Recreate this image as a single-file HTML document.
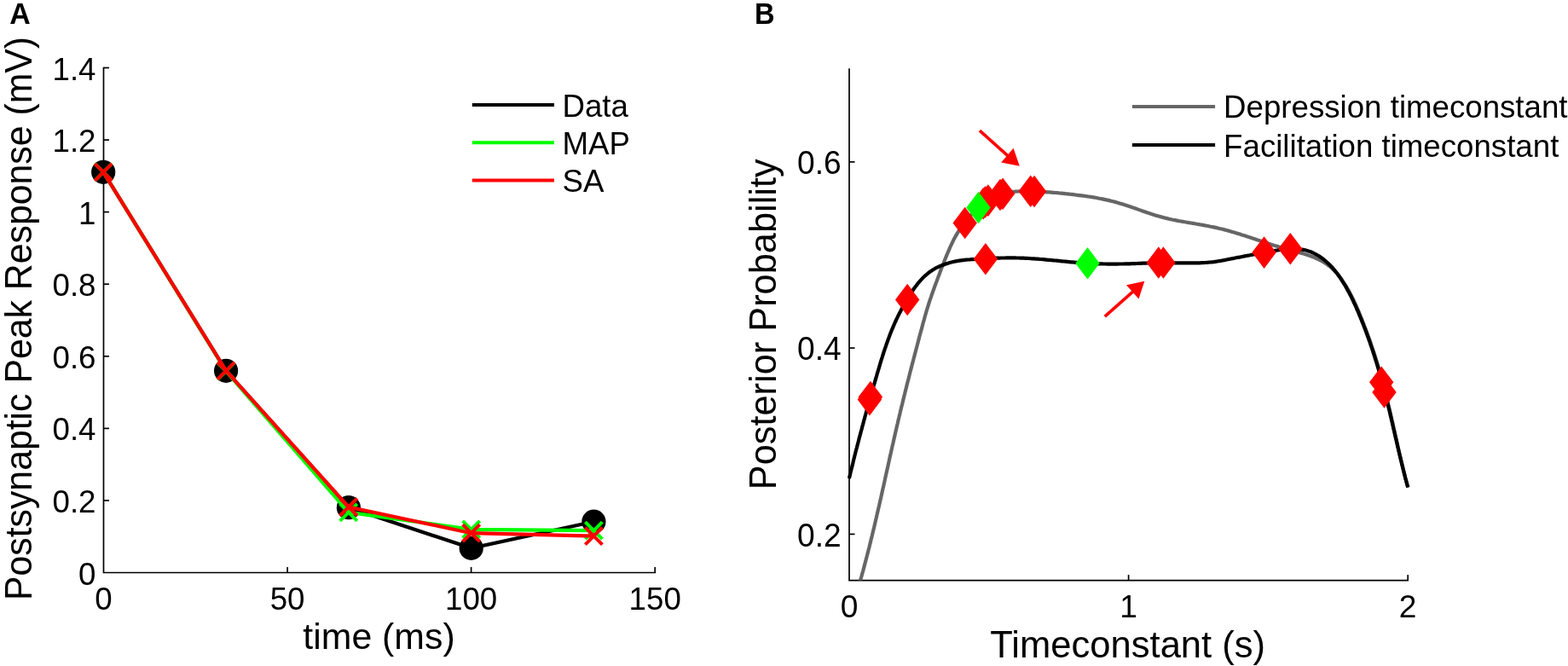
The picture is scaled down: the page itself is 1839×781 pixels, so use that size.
<!DOCTYPE html>
<html lang="en"><head><meta charset="utf-8"><title>Figure</title>
<style>
html,body{margin:0;padding:0;background:#fff;}
body{width:1839px;height:781px;overflow:hidden;}
svg{display:block;}
text{font-family:"Liberation Sans", sans-serif;}
</style></head><body>
<svg width="1839" height="781" viewBox="0 0 1839 781">
<rect width="1839" height="781" fill="#fff"/>
<g font-family='"Liberation Sans", sans-serif' fill="#000">
<text transform="translate(11.20,28.30) scale(1.02,1.035)" font-size="33.3" font-weight="bold">A</text>
<text transform="translate(885.10,28.30) scale(0.98,1.035)" font-size="33.3" font-weight="bold">B</text>
<path d="M121.5,78.7L121.5,671.5L769.1,671.5" fill="none" stroke="#000" stroke-width="1.7" stroke-linejoin="miter" stroke-linecap="butt"/>
<text transform="translate(121.50,714.50)" font-size="36.67" text-anchor="middle">0</text>
<line x1="337.1" y1="671.5" x2="337.1" y2="665.0" stroke="#000" stroke-width="1.7"/>
<text transform="translate(337.07,714.50)" font-size="36.67" text-anchor="middle">50</text>
<line x1="552.6" y1="671.5" x2="552.6" y2="665.0" stroke="#000" stroke-width="1.7"/>
<text transform="translate(552.63,714.50)" font-size="36.67" text-anchor="middle">100</text>
<line x1="768.2" y1="671.5" x2="768.2" y2="665.0" stroke="#000" stroke-width="1.7"/>
<text transform="translate(768.20,714.50)" font-size="36.67" text-anchor="middle">150</text>
<text transform="translate(112.50,685.50)" font-size="36.67" text-anchor="end">0</text>
<line x1="121.5" y1="586.9" x2="128.0" y2="586.9" stroke="#000" stroke-width="1.7"/>
<text transform="translate(112.50,600.93)" font-size="36.67" text-anchor="end">0.2</text>
<line x1="121.5" y1="502.4" x2="128.0" y2="502.4" stroke="#000" stroke-width="1.7"/>
<text transform="translate(112.50,516.36)" font-size="36.67" text-anchor="end">0.4</text>
<line x1="121.5" y1="417.8" x2="128.0" y2="417.8" stroke="#000" stroke-width="1.7"/>
<text transform="translate(112.50,431.79)" font-size="36.67" text-anchor="end">0.6</text>
<line x1="121.5" y1="333.2" x2="128.0" y2="333.2" stroke="#000" stroke-width="1.7"/>
<text transform="translate(112.50,347.21)" font-size="36.67" text-anchor="end">0.8</text>
<line x1="121.5" y1="248.6" x2="128.0" y2="248.6" stroke="#000" stroke-width="1.7"/>
<text transform="translate(112.50,262.64)" font-size="36.67" text-anchor="end">1</text>
<line x1="121.5" y1="164.1" x2="128.0" y2="164.1" stroke="#000" stroke-width="1.7"/>
<text transform="translate(112.50,178.07)" font-size="36.67" text-anchor="end">1.2</text>
<line x1="121.5" y1="79.5" x2="128.0" y2="79.5" stroke="#000" stroke-width="1.7"/>
<text transform="translate(112.50,93.50)" font-size="36.67" text-anchor="end">1.4</text>
<text transform="translate(444.50,760.90)" font-size="42.8" text-anchor="middle">time (ms)</text>
<text transform="translate(36.60,373.50) rotate(-90) scale(1.0,1.03)" font-size="42.8" text-anchor="middle">Postsynaptic Peak Response (mV)</text>
<polyline points="121.2,201.8 265.1,434.8 408.9,595.2 552.7,642.8 696.4,611.7" fill="none" stroke="#000" stroke-width="4.2" stroke-linejoin="miter" />
<circle cx="121.2" cy="201.8" r="14.1" fill="#000"/>
<circle cx="265.1" cy="434.8" r="14.1" fill="#000"/>
<circle cx="408.9" cy="595.2" r="14.1" fill="#000"/>
<circle cx="552.7" cy="642.8" r="14.1" fill="#000"/>
<circle cx="696.4" cy="611.7" r="14.1" fill="#000"/>
<polyline points="121.2,201.8 265.1,435.2 408.8,600.8 552.7,620.8 696.4,622.1" fill="none" stroke="#0f0" stroke-width="4.2" stroke-linejoin="miter" />
<path d="M111.2,191.8L131.2,211.8M111.2,211.8L131.2,191.8" stroke="#0f0" stroke-width="4.0" fill="none"/>
<path d="M255.1,425.2L275.1,445.2M255.1,445.2L275.1,425.2" stroke="#0f0" stroke-width="4.0" fill="none"/>
<path d="M398.8,590.8L418.8,610.8M398.8,610.8L418.8,590.8" stroke="#0f0" stroke-width="4.0" fill="none"/>
<path d="M542.7,610.8L562.7,630.8M542.7,630.8L562.7,610.8" stroke="#0f0" stroke-width="4.0" fill="none"/>
<path d="M686.4,612.1L706.4,632.1M686.4,632.1L706.4,612.1" stroke="#0f0" stroke-width="4.0" fill="none"/>
<polyline points="121.2,201.8 265.1,434.8 408.8,594.5 552.7,625.2 696.4,628.7" fill="none" stroke="#f00" stroke-width="4.2" stroke-linejoin="miter" />
<path d="M111.2,191.8L131.2,211.8M111.2,211.8L131.2,191.8" stroke="#f00" stroke-width="4.0" fill="none"/>
<path d="M255.1,424.8L275.1,444.8M255.1,444.8L275.1,424.8" stroke="#f00" stroke-width="4.0" fill="none"/>
<path d="M398.8,584.5L418.8,604.5M398.8,604.5L418.8,584.5" stroke="#f00" stroke-width="4.0" fill="none"/>
<path d="M542.7,615.2L562.7,635.2M542.7,635.2L562.7,615.2" stroke="#f00" stroke-width="4.0" fill="none"/>
<path d="M686.4,618.7L706.4,638.7M686.4,638.7L706.4,618.7" stroke="#f00" stroke-width="4.0" fill="none"/>
<line x1="553.8" y1="123.0" x2="650" y2="123.0" stroke="#000" stroke-width="4.0"/>
<text transform="translate(659.50,136.60)" font-size="36.67">Data</text>
<line x1="553.8" y1="167.2" x2="650" y2="167.2" stroke="#0f0" stroke-width="4.0"/>
<text transform="translate(659.50,180.80)" font-size="36.67">MAP</text>
<line x1="553.8" y1="211.4" x2="650" y2="211.4" stroke="#f00" stroke-width="4.0"/>
<text transform="translate(659.50,225.00)" font-size="36.67">SA</text>
<path d="M996.0,80.3L996.0,680.6L1652.0,680.6" fill="none" stroke="#000" stroke-width="1.7" stroke-linejoin="miter" stroke-linecap="butt"/>
<text transform="translate(996.00,723.60)" font-size="37.14671" text-anchor="middle">0</text>
<line x1="1323.6" y1="680.6" x2="1323.6" y2="674.1" stroke="#000" stroke-width="1.7"/>
<text transform="translate(1323.60,723.60)" font-size="37.14671" text-anchor="middle">1</text>
<line x1="1651.2" y1="680.6" x2="1651.2" y2="674.1" stroke="#000" stroke-width="1.7"/>
<text transform="translate(1651.20,723.60)" font-size="37.14671" text-anchor="middle">2</text>
<line x1="996.0" y1="626.4" x2="1002.5" y2="626.4" stroke="#000" stroke-width="1.7"/>
<text transform="translate(986.60,640.65) scale(1.0,1.04)" font-size="37.14671" text-anchor="end">0.2</text>
<line x1="996.0" y1="408.1" x2="1002.5" y2="408.1" stroke="#000" stroke-width="1.7"/>
<text transform="translate(986.60,422.40) scale(1.0,1.04)" font-size="37.14671" text-anchor="end">0.4</text>
<line x1="996.0" y1="189.9" x2="1002.5" y2="189.9" stroke="#000" stroke-width="1.7"/>
<text transform="translate(986.60,204.15) scale(1.0,1.04)" font-size="37.14671" text-anchor="end">0.6</text>
<text transform="translate(1322.70,770.90)" font-size="43.5704" text-anchor="middle">Timeconstant (s)</text>
<text transform="translate(910.30,380.30) rotate(-90) scale(1.0,1.005)" font-size="43.356399999999994" text-anchor="middle">Posterior Probability</text>
<clipPath id="cr"><rect x="991.0" y="80.5" width="665.2" height="600.1"/></clipPath>
<g clip-path="url(#cr)">
<polyline points="1006.4,690.0 1007.0,687.7 1007.7,685.4 1008.3,683.1 1009.0,680.9 1009.6,678.6 1010.3,676.3 1010.9,674.0 1011.5,671.8 1012.2,669.5 1012.8,667.2 1013.4,664.9 1014.0,662.6 1014.6,660.3 1015.2,658.0 1015.8,655.8 1016.4,653.5 1017.0,651.2 1017.6,648.9 1018.2,646.6 1018.8,644.3 1019.4,642.0 1019.9,639.7 1020.5,637.4 1021.1,635.1 1021.6,632.8 1022.2,630.5 1022.8,628.2 1023.3,625.9 1023.9,623.6 1024.4,621.3 1025.0,619.0 1025.5,616.7 1026.1,614.4 1026.6,612.1 1027.1,609.8 1027.7,607.5 1028.2,605.2 1028.7,602.9 1029.3,600.6 1029.8,598.3 1030.3,596.0 1030.9,593.7 1031.4,591.4 1031.9,589.1 1032.4,586.8 1033.0,584.4 1033.5,582.1 1034.0,579.8 1034.5,577.5 1035.0,575.2 1035.5,572.9 1036.1,570.6 1036.6,568.3 1037.1,566.0 1037.6,563.7 1038.1,561.4 1038.6,559.0 1039.1,556.7 1039.6,554.4 1040.2,552.1 1040.7,549.8 1041.2,547.5 1041.7,545.2 1042.2,542.9 1042.7,540.6 1043.2,538.3 1043.7,535.9 1044.3,533.6 1044.8,531.3 1045.3,529.0 1045.8,526.7 1046.3,524.4 1046.8,522.1 1047.4,519.8 1047.9,517.5 1048.4,515.2 1048.9,512.9 1049.5,510.6 1050.0,508.3 1050.5,506.0 1051.1,503.6 1051.6,501.3 1052.1,499.0 1052.7,496.7 1053.2,494.4 1053.7,492.1 1054.3,489.8 1054.8,487.5 1055.4,485.2 1055.9,482.9 1056.5,480.6 1057.0,478.3 1057.6,476.0 1058.2,473.7 1058.7,471.4 1059.3,469.1 1059.8,466.8 1060.4,464.5 1061.0,462.2 1061.5,459.9 1062.1,457.6 1062.7,455.4 1063.3,453.1 1063.8,450.8 1064.4,448.5 1065.0,446.2 1065.6,443.9 1066.2,441.6 1066.7,439.3 1067.3,437.0 1067.9,434.7 1068.5,432.4 1069.1,430.1 1069.7,427.8 1070.3,425.6 1070.9,423.3 1071.5,421.0 1072.1,418.7 1072.7,416.4 1073.3,414.1 1073.9,411.8 1074.5,409.5 1075.1,407.2 1075.7,405.0 1076.3,402.7 1076.9,400.4 1077.5,398.1 1078.1,395.8 1078.7,393.5 1079.3,391.2 1079.9,389.0 1080.6,386.7 1081.2,384.4 1081.8,382.1 1082.4,379.8 1083.0,377.5 1083.7,375.3 1084.3,373.0 1084.9,370.7 1085.6,368.4 1086.2,366.1 1086.9,363.9 1087.6,361.6 1088.3,359.4 1089.0,357.1 1089.7,354.8 1090.4,352.6 1091.2,350.4 1092.0,348.1 1092.7,345.9 1093.5,343.7 1094.3,341.4 1095.1,339.2 1095.9,337.0 1096.7,334.8 1097.5,332.5 1098.4,330.3 1099.2,328.1 1100.0,325.9 1100.8,323.7 1101.7,321.5 1102.5,319.2 1103.3,317.0 1104.2,314.8 1105.0,312.6 1105.9,310.4 1106.8,308.2 1107.6,306.0 1108.5,303.8 1109.4,301.6 1110.3,299.4 1111.2,297.2 1112.1,295.1 1113.1,292.9 1114.0,290.7 1115.0,288.5 1116.0,286.4 1117.0,284.3 1118.0,282.1 1119.1,280.0 1120.2,278.0 1121.4,275.9 1122.6,273.9 1123.8,271.9 1125.1,269.9 1126.4,267.9 1127.8,266.0 1129.2,264.1 1130.6,262.2 1132.1,260.3 1133.5,258.5 1135.0,256.7 1136.6,254.8 1138.1,253.0 1139.7,251.3 1141.3,249.5 1142.9,247.8 1144.6,246.1 1146.3,244.4 1148.1,242.8 1149.8,241.2 1151.7,239.7 1153.5,238.2 1155.4,236.7 1157.3,235.4 1159.3,234.0 1161.3,232.8 1163.3,231.6 1165.4,230.5 1167.5,229.5 1169.7,228.6 1171.9,227.8 1174.1,227.1 1176.4,226.5 1178.7,226.0 1181.0,225.6 1183.4,225.3 1185.7,225.0 1188.1,224.8 1190.5,224.7 1192.9,224.5 1195.3,224.4 1197.7,224.4 1200.0,224.3 1202.4,224.3 1204.8,224.3 1207.2,224.3 1209.5,224.3 1211.9,224.4 1214.3,224.5 1216.6,224.6 1219.0,224.7 1221.3,224.8 1223.7,224.9 1226.1,225.1 1228.4,225.3 1230.8,225.4 1233.1,225.6 1235.5,225.8 1237.8,226.0 1240.2,226.2 1242.5,226.5 1244.9,226.7 1247.2,226.9 1249.6,227.2 1251.9,227.4 1254.3,227.7 1256.6,227.9 1259.0,228.2 1261.3,228.5 1263.7,228.8 1266.0,229.1 1268.4,229.4 1270.7,229.7 1273.1,230.0 1275.4,230.3 1277.8,230.7 1280.1,231.0 1282.4,231.4 1284.8,231.8 1287.1,232.2 1289.4,232.7 1291.8,233.1 1294.1,233.6 1296.4,234.1 1298.7,234.6 1301.0,235.1 1303.3,235.7 1305.6,236.3 1307.9,236.9 1310.1,237.5 1312.4,238.2 1314.7,238.9 1317.0,239.5 1319.2,240.3 1321.5,241.0 1323.7,241.7 1326.0,242.5 1328.2,243.3 1330.4,244.0 1332.7,244.8 1334.9,245.6 1337.1,246.4 1339.4,247.2 1341.6,248.0 1343.8,248.8 1346.1,249.6 1348.3,250.3 1350.6,251.1 1352.8,251.8 1355.1,252.5 1357.3,253.1 1359.6,253.8 1361.9,254.4 1364.2,255.0 1366.5,255.6 1368.8,256.1 1371.1,256.7 1373.4,257.2 1375.7,257.7 1378.0,258.1 1380.3,258.6 1382.6,259.1 1385.0,259.5 1387.3,259.9 1389.6,260.3 1392.0,260.7 1394.3,261.1 1396.6,261.5 1399.0,261.9 1401.3,262.3 1403.7,262.7 1406.0,263.1 1408.3,263.5 1410.7,263.9 1413.0,264.4 1415.3,264.8 1417.7,265.2 1420.0,265.7 1422.3,266.1 1424.6,266.6 1426.9,267.1 1429.2,267.7 1431.5,268.2 1433.8,268.8 1436.1,269.4 1438.4,270.0 1440.7,270.6 1442.9,271.2 1445.2,271.9 1447.5,272.6 1449.7,273.2 1452.0,273.9 1454.2,274.6 1456.5,275.4 1458.7,276.1 1461.0,276.8 1463.2,277.6 1465.5,278.3 1467.7,279.0 1470.0,279.8 1472.2,280.5 1474.5,281.3 1476.7,282.1 1479.0,282.8 1481.2,283.6 1483.5,284.3 1485.7,285.0 1488.0,285.8 1490.2,286.5 1492.5,287.2 1494.7,287.9 1497.0,288.6 1499.3,289.3 1501.5,290.0 1503.8,290.6 1506.1,291.3 1508.4,291.9 1510.6,292.5 1512.9,293.1 1515.2,293.7 1517.5,294.3 1519.8,294.9 1522.1,295.6 1524.3,296.2 1526.6,296.9 1528.9,297.5 1531.1,298.2 1533.4,299.0 1535.6,299.7 1537.8,300.5 1540.0,301.4 1542.2,302.3 1544.4,303.3 1546.6,304.3 1548.7,305.4 1550.7,306.5 1552.8,307.7 1554.8,308.9 1556.7,310.3 1558.6,311.7 1560.4,313.2 1562.2,314.7 1563.9,316.3 1565.6,318.0 1567.2,319.7 1568.7,321.5 1570.2,323.4 1571.7,325.2 1573.1,327.1 1574.5,329.1 1575.8,331.1 1577.1,333.1 1578.4,335.1 1579.6,337.1 1580.8,339.1 1582.0,341.2 1583.1,343.3 1584.2,345.4 1585.3,347.5 1586.4,349.6 1587.4,351.7 1588.4,353.8 1589.4,356.0 1590.4,358.1 1591.3,360.3 1592.3,362.5 1593.2,364.6 1594.1,366.8 1595.0,369.0 1595.9,371.2 1596.8,373.4 1597.7,375.6 1598.5,377.8 1599.4,380.0 1600.2,382.2 1601.1,384.4 1601.9,386.6 1602.8,388.8 1603.6,391.0 1604.4,393.3 1605.2,395.5 1606.0,397.7 1606.8,399.9 1607.6,402.2 1608.3,404.4 1609.1,406.7 1609.9,408.9 1610.6,411.1 1611.4,413.4 1612.1,415.6 1612.8,417.9 1613.5,420.2 1614.2,422.4 1614.9,424.7 1615.6,426.9 1616.3,429.2 1617.0,431.5 1617.7,433.7 1618.3,436.0 1619.0,438.3 1619.6,440.6 1620.3,442.8 1620.9,445.1 1621.5,447.4 1622.1,449.7 1622.7,452.0 1623.3,454.3 1623.9,456.6 1624.5,458.8 1625.1,461.1 1625.7,463.4 1626.3,465.7 1626.8,468.0 1627.4,470.3 1627.9,472.6 1628.5,474.9 1629.0,477.2 1629.6,479.5 1630.1,481.8 1630.6,484.1 1631.2,486.4 1631.7,488.7 1632.2,491.1 1632.7,493.4 1633.3,495.7 1633.8,498.0 1634.3,500.3 1634.8,502.6 1635.3,504.9 1635.9,507.2 1636.4,509.5 1636.9,511.8 1637.4,514.1 1637.9,516.4 1638.5,518.7 1639.0,521.1 1639.5,523.4 1640.0,525.7 1640.6,528.0 1641.1,530.3 1641.6,532.6 1642.2,534.9 1642.7,537.2 1643.2,539.5 1643.8,541.8 1644.3,544.1 1644.9,546.4 1645.5,548.7 1646.0,551.0 1646.6,553.3 1647.2,555.6 1647.8,557.9 1648.3,560.2 1648.9,562.5 1649.5,564.7 1650.2,567.0 1650.8,569.3 1651.4,571.6" fill="none" stroke="#666" stroke-width="4.2" stroke-linejoin="miter" stroke-linejoin="round"/>
<polyline points="995.9,561.1 996.4,559.1 996.9,557.1 997.3,555.1 997.8,553.1 998.3,551.1 998.8,549.2 999.3,547.2 999.8,545.2 1000.3,543.2 1000.7,541.2 1001.2,539.2 1001.7,537.2 1002.2,535.2 1002.7,533.3 1003.2,531.3 1003.7,529.3 1004.2,527.3 1004.8,525.3 1005.3,523.3 1005.8,521.4 1006.3,519.4 1006.8,517.4 1007.3,515.4 1007.8,513.4 1008.4,511.5 1008.9,509.5 1009.4,507.5 1009.9,505.5 1010.5,503.6 1011.0,501.6 1011.5,499.6 1012.1,497.6 1012.6,495.7 1013.1,493.7 1013.7,491.7 1014.2,489.7 1014.7,487.8 1015.3,485.8 1015.8,483.8 1016.4,481.9 1016.9,479.9 1017.5,477.9 1018.0,475.9 1018.6,474.0 1019.1,472.0 1019.7,470.0 1020.2,468.1 1020.8,466.1 1021.4,464.1 1021.9,462.2 1022.5,460.2 1023.0,458.2 1023.6,456.2 1024.2,454.3 1024.7,452.3 1025.3,450.3 1025.9,448.4 1026.5,446.4 1027.0,444.4 1027.6,442.5 1028.2,440.5 1028.7,438.5 1029.3,436.6 1029.9,434.6 1030.5,432.6 1031.1,430.7 1031.7,428.7 1032.2,426.7 1032.8,424.8 1033.4,422.8 1034.0,420.9 1034.7,418.9 1035.3,416.9 1035.9,415.0 1036.5,413.0 1037.2,411.1 1037.8,409.1 1038.5,407.2 1039.1,405.3 1039.8,403.3 1040.5,401.4 1041.2,399.5 1041.9,397.6 1042.6,395.6 1043.3,393.7 1044.0,391.8 1044.8,389.9 1045.5,388.0 1046.3,386.1 1047.1,384.3 1047.9,382.4 1048.7,380.5 1049.5,378.6 1050.4,376.8 1051.2,374.9 1052.1,373.1 1053.0,371.2 1053.9,369.4 1054.8,367.6 1055.8,365.8 1056.7,364.0 1057.7,362.1 1058.7,360.4 1059.7,358.6 1060.7,356.8 1061.7,355.0 1062.7,353.2 1063.7,351.4 1064.8,349.7 1065.9,347.9 1066.9,346.2 1068.0,344.4 1069.1,342.7 1070.3,341.0 1071.4,339.3 1072.6,337.6 1073.8,336.0 1075.0,334.4 1076.3,332.7 1077.6,331.2 1078.9,329.6 1080.3,328.1 1081.7,326.6 1083.2,325.1 1084.6,323.7 1086.2,322.3 1087.7,321.0 1089.3,319.7 1090.9,318.5 1092.6,317.4 1094.3,316.3 1096.1,315.2 1097.9,314.2 1099.7,313.3 1101.6,312.5 1103.4,311.7 1105.3,310.9 1107.3,310.2 1109.2,309.5 1111.2,308.9 1113.2,308.3 1115.1,307.8 1117.1,307.3 1119.1,306.8 1121.1,306.4 1123.2,306.0 1125.2,305.7 1127.2,305.4 1129.2,305.1 1131.3,304.9 1133.3,304.7 1135.3,304.5 1137.4,304.4 1139.4,304.2 1141.4,304.1 1143.5,304.0 1145.5,303.8 1147.6,303.7 1149.6,303.6 1151.6,303.5 1153.7,303.4 1155.7,303.3 1157.8,303.2 1159.8,303.1 1161.9,303.0 1163.9,302.9 1166.0,302.8 1168.0,302.7 1170.1,302.7 1172.1,302.6 1174.2,302.5 1176.2,302.5 1178.2,302.5 1180.3,302.4 1182.3,302.4 1184.4,302.4 1186.4,302.4 1188.5,302.4 1190.5,302.4 1192.6,302.5 1194.6,302.5 1196.7,302.6 1198.7,302.6 1200.8,302.7 1202.8,302.8 1204.8,302.9 1206.9,303.0 1208.9,303.2 1211.0,303.3 1213.0,303.4 1215.1,303.6 1217.1,303.7 1219.1,303.9 1221.2,304.0 1223.2,304.2 1225.3,304.4 1227.3,304.6 1229.3,304.8 1231.4,304.9 1233.4,305.1 1235.5,305.3 1237.5,305.5 1239.5,305.7 1241.6,305.9 1243.6,306.1 1245.6,306.3 1247.7,306.5 1249.7,306.7 1251.8,306.9 1253.8,307.1 1255.8,307.3 1257.9,307.4 1259.9,307.6 1262.0,307.8 1264.0,307.9 1266.0,308.1 1268.1,308.3 1270.1,308.4 1272.2,308.5 1274.2,308.7 1276.2,308.8 1278.3,308.9 1280.3,309.0 1282.4,309.1 1284.4,309.2 1286.5,309.3 1288.5,309.3 1290.5,309.4 1292.6,309.4 1294.6,309.5 1296.7,309.5 1298.7,309.6 1300.8,309.6 1302.8,309.6 1304.9,309.6 1306.9,309.6 1309.0,309.6 1311.0,309.6 1313.0,309.5 1315.1,309.5 1317.1,309.5 1319.2,309.4 1321.2,309.4 1323.3,309.3 1325.3,309.3 1327.4,309.2 1329.4,309.1 1331.5,309.1 1333.5,309.0 1335.6,308.9 1337.6,308.8 1339.7,308.7 1341.7,308.6 1343.7,308.6 1345.8,308.5 1347.8,308.4 1349.9,308.3 1351.9,308.3 1354.0,308.2 1356.0,308.2 1358.1,308.1 1360.1,308.1 1362.2,308.1 1364.2,308.1 1366.3,308.1 1368.3,308.1 1370.3,308.1 1372.4,308.2 1374.4,308.2 1376.5,308.2 1378.5,308.3 1380.6,308.3 1382.6,308.3 1384.7,308.3 1386.7,308.4 1388.8,308.4 1390.8,308.4 1392.9,308.4 1394.9,308.4 1397.0,308.4 1399.0,308.4 1401.1,308.4 1403.1,308.4 1405.1,308.3 1407.2,308.3 1409.2,308.2 1411.3,308.1 1413.3,308.0 1415.4,307.8 1417.4,307.7 1419.5,307.5 1421.5,307.3 1423.5,307.1 1425.6,306.8 1427.6,306.5 1429.6,306.2 1431.6,305.9 1433.6,305.5 1435.6,305.1 1437.6,304.7 1439.6,304.3 1441.7,303.9 1443.7,303.5 1445.7,303.1 1447.7,302.7 1449.7,302.3 1451.7,301.9 1453.7,301.6 1455.7,301.2 1457.8,300.8 1459.8,300.4 1461.8,300.0 1463.8,299.6 1465.8,299.3 1467.8,298.9 1469.8,298.5 1471.9,298.1 1473.9,297.8 1475.9,297.4 1477.9,297.0 1479.9,296.7 1481.9,296.3 1483.9,295.9 1485.9,295.6 1487.9,295.2 1489.9,294.8 1491.9,294.5 1493.9,294.1 1495.9,293.8 1497.9,293.5 1500.0,293.2 1502.0,292.9 1504.1,292.7 1506.1,292.4 1508.2,292.2 1510.3,292.1 1512.3,292.0 1514.4,291.9 1516.5,291.9 1518.5,291.9 1520.6,292.0 1522.6,292.1 1524.6,292.3 1526.7,292.6 1528.7,292.9 1530.6,293.3 1532.6,293.8 1534.5,294.4 1536.5,295.1 1538.4,295.8 1540.2,296.7 1542.1,297.6 1543.9,298.5 1545.6,299.5 1547.4,300.6 1549.1,301.8 1550.8,303.0 1552.4,304.2 1554.0,305.5 1555.5,306.8 1557.1,308.2 1558.5,309.6 1560.0,311.0 1561.4,312.5 1562.8,314.0 1564.1,315.6 1565.4,317.1 1566.7,318.7 1568.0,320.3 1569.2,322.0 1570.4,323.7 1571.6,325.4 1572.7,327.1 1573.8,328.8 1574.9,330.5 1576.0,332.3 1577.1,334.0 1578.1,335.8 1579.1,337.6 1580.1,339.4 1581.1,341.2 1582.1,343.0 1583.0,344.8 1584.0,346.6 1584.9,348.4 1585.8,350.3 1586.7,352.1 1587.5,353.9 1588.4,355.8 1589.3,357.7 1590.1,359.5 1590.9,361.4 1591.7,363.3 1592.6,365.1 1593.4,367.0 1594.1,368.9 1594.9,370.8 1595.7,372.7 1596.5,374.6 1597.2,376.5 1598.0,378.4 1598.8,380.3 1599.5,382.2 1600.2,384.1 1601.0,386.0 1601.7,387.9 1602.4,389.8 1603.1,391.7 1603.8,393.7 1604.5,395.6 1605.2,397.5 1605.9,399.4 1606.6,401.4 1607.2,403.3 1607.9,405.2 1608.6,407.2 1609.2,409.1 1609.9,411.1 1610.5,413.0 1611.1,415.0 1611.8,416.9 1612.4,418.9 1613.0,420.8 1613.6,422.8 1614.2,424.7 1614.8,426.7 1615.4,428.7 1616.0,430.6 1616.6,432.6 1617.2,434.6 1617.7,436.5 1618.3,438.5 1618.9,440.5 1619.4,442.4 1620.0,444.4 1620.5,446.4 1621.1,448.4 1621.6,450.3 1622.1,452.3 1622.6,454.3 1623.2,456.3 1623.7,458.3 1624.2,460.2 1624.7,462.2 1625.2,464.2 1625.7,466.2 1626.2,468.2 1626.7,470.2 1627.2,472.1 1627.7,474.1 1628.1,476.1 1628.6,478.1 1629.1,480.1 1629.6,482.1 1630.1,484.1 1630.5,486.1 1631.0,488.1 1631.5,490.0 1631.9,492.0 1632.4,494.0 1632.9,496.0 1633.3,498.0 1633.8,500.0 1634.2,502.0 1634.7,504.0 1635.2,506.0 1635.6,508.0 1636.1,510.0 1636.5,512.0 1637.0,514.0 1637.5,515.9 1637.9,517.9 1638.4,519.9 1638.8,521.9 1639.3,523.9 1639.8,525.9 1640.2,527.9 1640.7,529.9 1641.2,531.9 1641.6,533.9 1642.1,535.9 1642.6,537.9 1643.1,539.9 1643.6,541.8 1644.0,543.8 1644.5,545.8 1645.0,547.8 1645.5,549.8 1646.0,551.8 1646.5,553.8 1647.0,555.8 1647.5,557.7 1648.0,559.7 1648.5,561.7 1649.1,563.7 1649.6,565.7 1650.1,567.6 1650.7,569.6 1651.2,571.6" fill="none" stroke="#000" stroke-width="4.2" stroke-linejoin="miter" stroke-linejoin="round"/>
</g>
<path d="M1131.7,242.7L1145.9,261.5L1131.7,280.3L1117.5,261.5Z" fill="#f00"/>
<path d="M1153.2,220.0L1167.4,238.8L1153.2,257.6L1139.0,238.8Z" fill="#f00"/>
<path d="M1155.6,218.1L1169.8,236.9L1155.6,255.7L1141.4,236.9Z" fill="#f00"/>
<path d="M1158.9,216.3L1173.1,235.1L1158.9,253.9L1144.7,235.1Z" fill="#f00"/>
<path d="M1173.0,209.7L1187.2,228.5L1173.0,247.3L1158.8,228.5Z" fill="#f00"/>
<path d="M1176.1,208.5L1190.3,227.3L1176.1,246.1L1161.9,227.3Z" fill="#f00"/>
<path d="M1208.7,205.4L1222.9,224.2L1208.7,243.0L1194.5,224.2Z" fill="#f00"/>
<path d="M1213.1,205.7L1227.3,224.5L1213.1,243.3L1198.9,224.5Z" fill="#f00"/>
<path d="M1020.9,446.7L1035.1,465.5L1020.9,484.3L1006.7,465.5Z" fill="#f00"/>
<path d="M1019.9,449.8L1034.1,468.6L1019.9,487.4L1005.7,468.6Z" fill="#f00"/>
<path d="M1064.2,332.7L1078.4,351.5L1064.2,370.3L1050.0,351.5Z" fill="#f00"/>
<path d="M1155.9,284.9L1170.1,303.7L1155.9,322.5L1141.7,303.7Z" fill="#f00"/>
<path d="M1358.8,289.2L1373.0,308.0L1358.8,326.8L1344.6,308.0Z" fill="#f00"/>
<path d="M1364.4,289.2L1378.6,308.0L1364.4,326.8L1350.2,308.0Z" fill="#f00"/>
<path d="M1482.6,277.3L1496.8,296.1L1482.6,314.9L1468.4,296.1Z" fill="#f00"/>
<path d="M1513.3,273.0L1527.5,291.8L1513.3,310.6L1499.1,291.8Z" fill="#f00"/>
<path d="M1620.2,429.5L1634.4,448.3L1620.2,467.1L1606.0,448.3Z" fill="#f00"/>
<path d="M1623.5,441.1L1637.7,459.9L1623.5,478.7L1609.3,459.9Z" fill="#f00"/>
<path d="M1147.5,224.7L1161.7,243.5L1147.5,262.3L1133.3,243.5Z" fill="#0f0"/>
<path d="M1275.5,290.0L1289.7,308.8L1275.5,327.6L1261.3,308.8Z" fill="#0f0"/>
<line x1="1149" y1="153.2" x2="1183.0" y2="183.6" stroke="#f00" stroke-width="3.6"/>
<path d="M1195.8,194.8L1188.6,173.8L1174.2,190.5Z" fill="#f00"/>
<line x1="1295.8" y1="371.2" x2="1329.7" y2="341.2" stroke="#f00" stroke-width="3.6"/>
<path d="M1342.3,329.8L1321,334.2L1335.5,350.6Z" fill="#f00"/>
<line x1="1327.9" y1="124.9" x2="1425.1" y2="124.9" stroke="#666" stroke-width="4.0"/>
<text transform="translate(1435.10,138.30)" font-size="36.67">Depression timeconstant</text>
<line x1="1327.9" y1="169.9" x2="1425.1" y2="169.9" stroke="#000" stroke-width="4.0"/>
<text transform="translate(1435.10,183.70)" font-size="36.67">Facilitation timeconstant</text>
</g>
</svg>
</body></html>
